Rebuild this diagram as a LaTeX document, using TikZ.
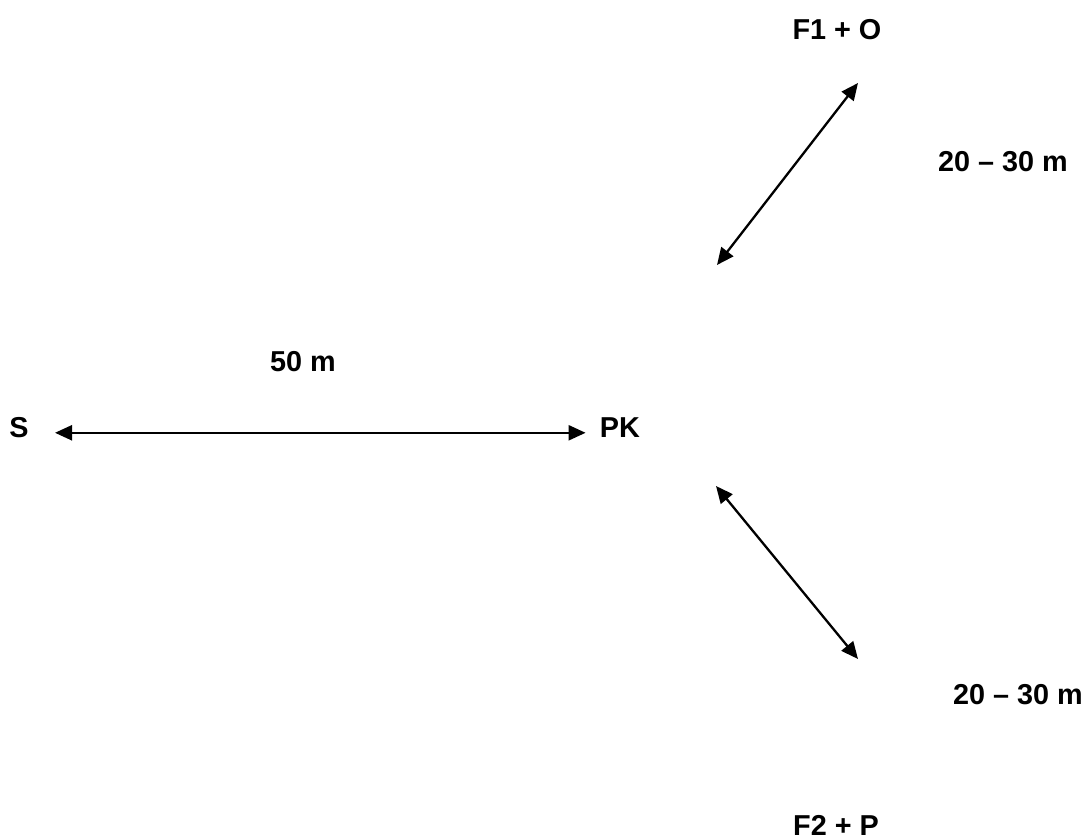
\documentclass[tikz,border=0pt]{standalone}
\usepackage{fontspec}
\setmainfont{Liberation Sans}
\usepackage{tikz}
\usetikzlibrary{positioning,calc,arrows.meta}

\begin{document}
\begin{tikzpicture}[x=0.5pt,y=-0.5pt,
        place/.style={font=\fontsize{14.4}{17}\selectfont\bfseries, inner sep=0pt},
        dist/.style={draw=black, line width=1.15pt, {Triangle[length=8.5pt,width=7.5pt]}-{Triangle[length=8.5pt,width=7.5pt]}}]
        \useasboundingbox (0,0) rectangle (1089,839);

        \node[place] (s) at (19,428) {S};
        \node[place] (pk) at (620,428) {PK};
        \node[place] (f1) at (837,30) {F1 + O};
        \node[place] (f2) at (836,825) {F2 + P};

        \node[place] (d0) at (303,362) {50 m};
        \node[place] (d1) at (1003,162) {20 -- 30 m};
        \node[place] (d2) at (1018,695) {20 -- 30 m};

        \coordinate (up0) at (717,265);
        \coordinate (up1) at (858,83);
        \coordinate (dn0) at (716,486);
        \coordinate (dn1) at (858,659);

        \draw[dist] ([xshift=13pt,yshift=-2.4pt]s.east) -- ([xshift=-7pt,yshift=-2.4pt]pk.west);
        \draw[dist] (up0) -- (up1);
        \draw[dist] (dn0) -- (dn1);
    \end{tikzpicture}
\end{document}
